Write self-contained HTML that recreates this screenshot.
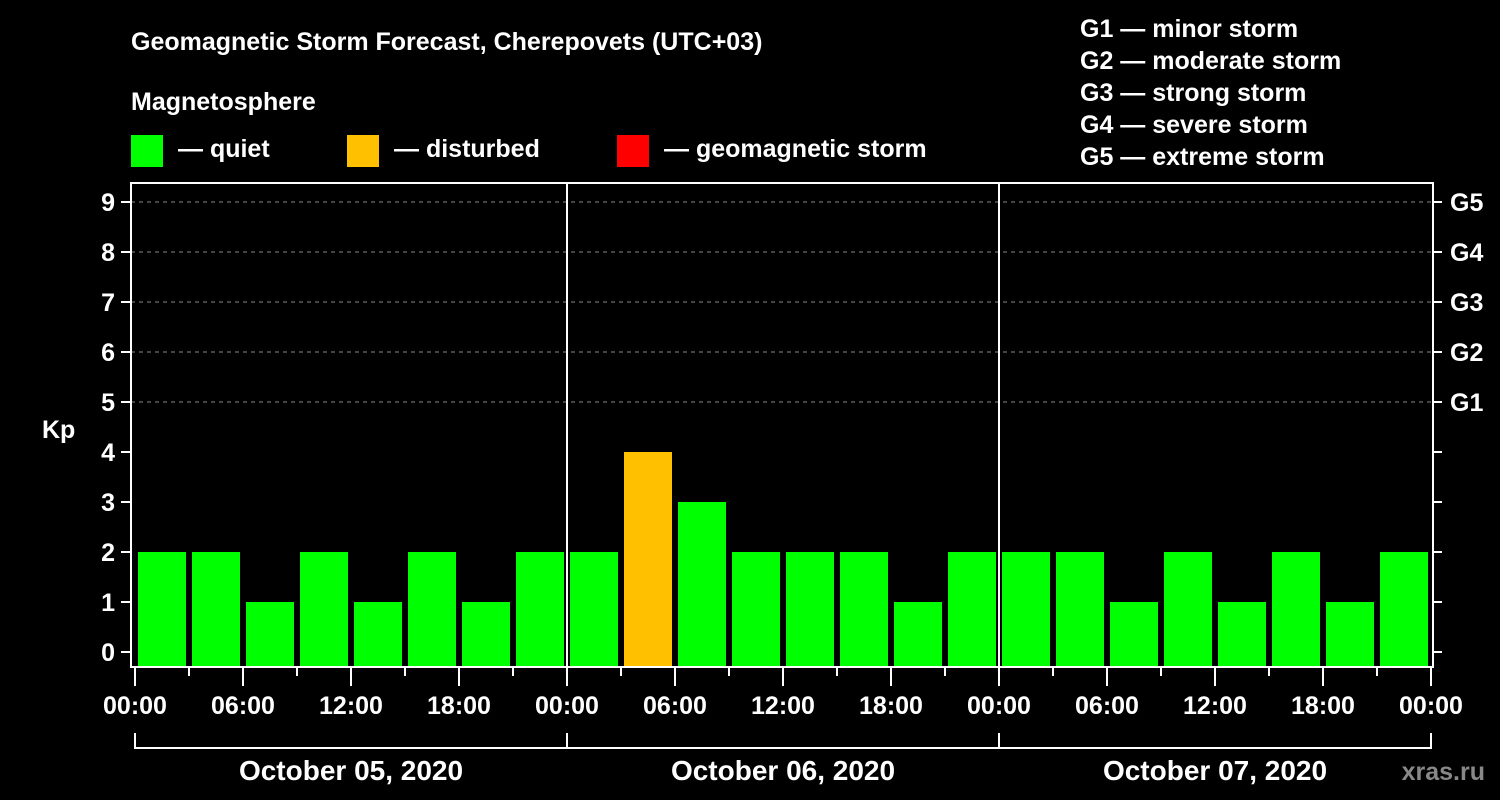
<!DOCTYPE html>
<html><head><meta charset="utf-8"><style>
body{margin:0;background:#000;}
svg{display:block;font-family:"Liberation Sans",Arial,sans-serif;font-weight:bold;}
</style></head><body>
<svg id="chart" width="1500" height="800" viewBox="0 0 1500 800">
<rect width="1500" height="800" fill="#000"/>
<text x="131" y="50" fill="#fff" font-size="25">Geomagnetic Storm Forecast, Cherepovets (UTC+03)</text>
<text x="131" y="110" fill="#fff" font-size="25">Magnetosphere</text>
<g><rect x="131" y="135" width="32" height="32" fill="#00ff00"/><text x="178" y="157" fill="#fff" font-size="25">— quiet</text></g>
<g><rect x="347" y="135" width="32" height="32" fill="#ffc000"/><text x="394" y="157" fill="#fff" font-size="25">— disturbed</text></g>
<g><rect x="617" y="135" width="32" height="32" fill="#ff0000"/><text x="664" y="157" fill="#fff" font-size="25">— geomagnetic storm</text></g>
<g fill="#fff" font-size="25">
<text x="1080" y="37">G1 — minor storm</text>
<text x="1080" y="69">G2 — moderate storm</text>
<text x="1080" y="101">G3 — strong storm</text>
<text x="1080" y="133">G4 — severe storm</text>
<text x="1080" y="165">G5 — extreme storm</text>
</g>
<text x="42" y="438" fill="#fff" font-size="25">Kp</text>
<text x="1590" y="780" fill="#888" font-size="25" text-anchor="end" transform="translate(-105,0)">xras.ru</text>
<g id="grid"></g><g id="bars"></g><g id="axes"></g>
</svg>
<script>
const kpValues=[2,2,1,2,1,2,1,2, 2,4,3,2,2,2,1,2, 2,2,1,2,1,2,1,2];
const yTicks=[0,1,2,3,4,5,6,7,8,9];
const gLabels=["G1","G2","G3","G4","G5"];
const gLevels=[5,6,7,8,9];
const timeLabels=["00:00","06:00","12:00","18:00"];
const dayLabels=["October 05, 2020","October 06, 2020","October 07, 2020"];
const NS="http://www.w3.org/2000/svg";
const L=131,R=1433,T=183,B=667,X0=135,DAY=432;
const y=v=>652-v*50;
const x=h=>X0+h*DAY/24;
function mk(tag,a,p){const e=document.createElementNS(NS,tag);for(const k in a)e.setAttribute(k,a[k]);p.appendChild(e);return e;}
const grid=document.getElementById('grid'),bars=document.getElementById('bars'),axes=document.getElementById('axes');
gLevels.forEach((g,i)=>{const l=mk('line',{x1:L,x2:R,y1:y(g),y2:y(g),stroke:'#888','stroke-dasharray':'4,4'},grid);

});
kpValues.forEach((v,i)=>{const c=v>=5?'#ff0000':(v>=4?'#ffc000':'#00ff00');
const r=mk('rect',{x:x(i*3)+3,width:DAY/8-6,y:y(v),height:B-y(v),fill:c},bars);

});
for(let d=1;d<dayLabels.length;d++){const l=mk('line',{x1:x(d*24),x2:x(d*24),y1:T,y2:B,stroke:'#fff','stroke-width':2},axes);

}
const fr=mk('rect',{x:L,y:T,width:R-L,height:B-T,fill:'none',stroke:'#fff','stroke-width':2},axes);


yTicks.forEach(t=>{mk('line',{x1:121,x2:L,y1:y(t),y2:y(t),stroke:'#fff','stroke-width':2},axes);
mk('line',{x1:R,x2:1442,y1:y(t),y2:y(t),stroke:'#fff','stroke-width':2},axes);
const tx=mk('text',{x:115,y:y(t)+9,fill:'#fff','font-size':25,'text-anchor':'end'},axes);tx.textContent=t;

});
gLevels.forEach((g,i)=>{const tx=mk('text',{x:1450,y:y(g)+9,fill:'#fff','font-size':25},axes);tx.textContent=gLabels[i];

});
const nH=dayLabels.length*24;
for(let h=0;h<=nH;h+=3){const major=h%6===0;
mk('line',{x1:x(h),x2:x(h),y1:B,y2:major?686:676,stroke:'#fff','stroke-width':2},axes);
if(major){const tx=mk('text',{x:x(h),y:714,fill:'#fff','font-size':25,'text-anchor':'middle'},axes);tx.textContent=timeLabels[(h/6)%4];

}}
mk('line',{x1:x(0),x2:x(nH),y1:748,y2:748,stroke:'#fff','stroke-width':2},axes);
for(let d=0;d<=dayLabels.length;d++)mk('line',{x1:x(d*24),x2:x(d*24),y1:733,y2:749,stroke:'#fff','stroke-width':2},axes);
dayLabels.forEach((s,d)=>{const tx=mk('text',{x:x(d*24+12),y:780,fill:'#fff','font-size':28,'text-anchor':'middle'},axes);tx.textContent=s;

});
</script>
</body></html>
